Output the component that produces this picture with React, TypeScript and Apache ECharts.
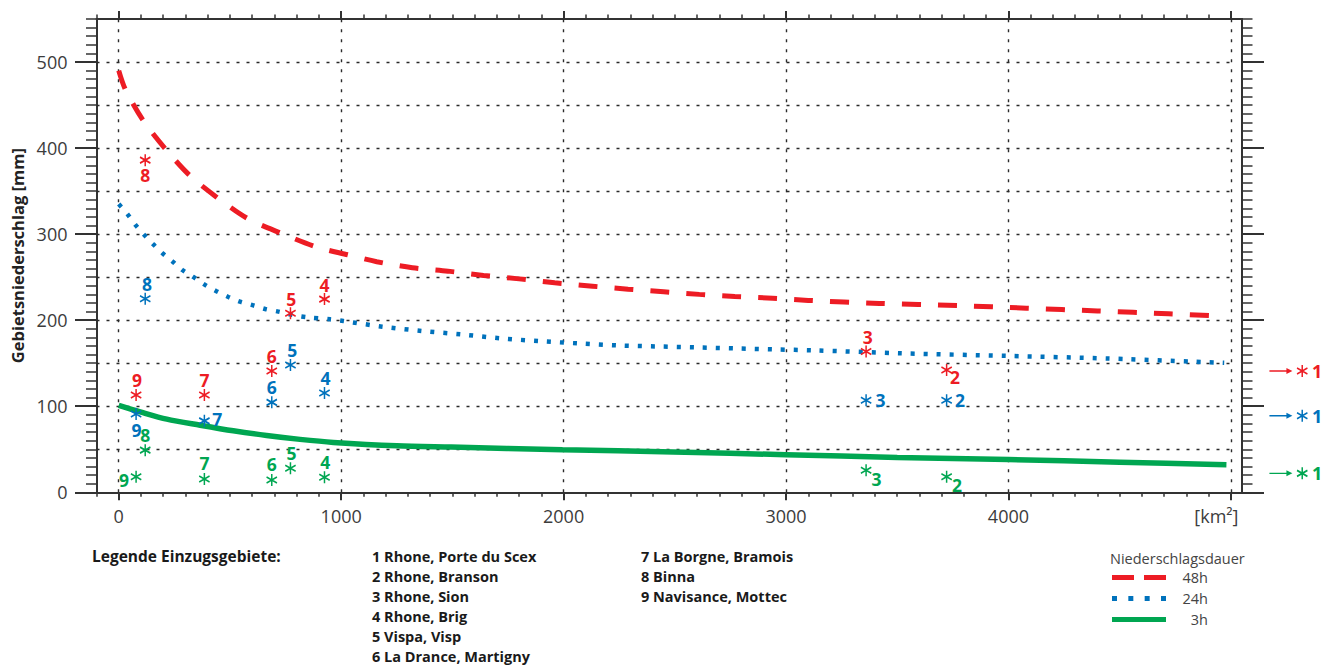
import React, { useEffect, useRef } from "react";
import * as echarts from "echarts";

// ---------- axis ranges & ticks ----------
const X_MIN = -100;
const X_MAX = 5050;
const Y_MIN = 0;
const Y_MAX = 550;
const xMajorTicks = [0, 1000, 2000, 3000, 4000, 5000];
const xLabelValues = [0, 1000, 2000, 3000, 4000, 5000];
const xMinorTicks = Array.from({ length: 52 }, (_, i) => -100 + i * 100);
const yMajorTicks = [0, 100, 200, 300, 400, 500];
const yLabelValues = [0, 100, 200, 300, 400, 500];
const yMinorTicks = Array.from({ length: 56 }, (_, i) => i * 10);
const gridXValues = [0, 1000, 2000, 3000, 4000, 5000];
const gridYValues = [50, 100, 150, 200, 250, 300, 350, 400, 450, 500];
const X_GRID_END = 5000;

// ---------- curves (area km², precipitation mm) ----------
const curve48h = [
  [0, 490], [30, 468], [110, 432], [210, 399], [320, 368], [440, 343], [580, 318],
  [730, 301], [890, 285], [1030, 276], [1160, 268], [1320, 261], [1480, 257],
  [1640, 252], [1800, 248], [1960, 243.5], [2130, 239.5], [2290, 236], [2450, 233],
  [2610, 230], [2770, 227.5], [2940, 225.5], [3100, 223], [3420, 219.5], [3770, 217],
  [4080, 214], [4400, 210.8], [4720, 207.5], [4930, 205],
];
const curve24h = [
  [0, 335], [40, 323], [76, 310.5], [115, 299], [156, 288], [198, 277.5], [243, 268],
  [288, 258], [333, 250.5], [388, 241], [437, 234], [493, 227], [545, 221.5],
  [601, 217.5], [658, 213], [718, 210], [782, 206], [845, 203.5], [950, 201],
  [1010, 199], [1185, 192.5], [1362, 187.5], [1538, 183.5], [1714, 179], [1890, 175.7],
  [2067, 173], [2244, 170.7], [2419, 169.5], [2599, 168.4], [2774, 167.2], [2951, 166],
  [3123, 165], [3524, 161.5], [3995, 158.5], [4445, 155.5], [4970, 150.5],
];
const curve3h = [
  [0, 101], [96, 93.5], [216, 85], [366, 78], [515, 71.5], [665, 66], [815, 61.5],
  [965, 58], [1250, 54], [1494, 52.5], [1995, 49.5], [2494, 46.8], [3000, 43.7],
  [3500, 40.5], [4000, 38], [4500, 35], [4980, 32],
];

// ---------- catchments ----------
const catchmentNames = [
  "Rhone, Porte du Scex", "Rhone, Branson", "Rhone, Sion", "Rhone, Brig", "Vispa, Visp",
  "La Drance, Martigny", "La Borgne, Bramois", "Binna", "Navisance, Mottec",
];
const catchmentIds = ["2", "3", "4", "5", "6", "7", "8", "9"];
const catchmentArea = [3722, 3360, 925, 772, 688, 385, 119, 78];
const peak48h = [142, 163.5, 224.5, 208, 141, 113, 386, 113];
const peak24h = [107, 107, 115.5, 148, 104.5, 83, 225, 91];
const peak3h = [18, 25.5, 17.4, 28, 14.3, 15.4, 49, 18];
// catchment 1 lies beyond the axis end (shown with an arrow)
const offAxisId = "1";
const offAxisArea = 5225;
const offAxisPeaks = [141, 89, 22]; // 48h, 24h, 3h

// ---------- label placement (style) ----------
const labelOffset48h = [[8.5, 6.7], [1.7, -14.5], [0, -14.5], [0.7, -14.5], [0, -14.5], [0, -15], [0, 15], [1, -15]];
const labelOffset24h = [[13.5, 0], [14.5, 0], [1, -14.5], [1.7, -15], [0, -15], [12.8, -2.3], [1.7, -15], [0.5, 16]];
const labelOffset3h = [[10.5, 7.7], [10.5, 8.3], [0.7, -15], [1, -15], [0, -15.7], [0, -15.7], [0, -15], [-12, 3.3]];

const RED = "#ed1c24";
const BLUE = "#0072bc";
const GREEN = "#00a651";
const DURATION_COLORS = [RED, BLUE, GREEN];
const FONT = '"Open Sans", "Noto Sans", sans-serif';
const AXIS_COLOR = "#333333";
const ASTERISK = "path://M0,-6L0,6M-5.2,-3L5.2,3M-5.2,3L5.2,-3";
const ARROW = "path://M0,2.3L17,2.3L17,0L23,3L17,6L17,3.7L0,3.7Z";

function scatterSeries(name: string, color: string, values: number[], offsets: number[][]) {
  return {
    type: "scatter",
    name,
    z: 5,
    clip: false,
    silent: true,
    symbol: ASTERISK,
    symbolSize: [10.4, 12],
    itemStyle: { color, borderColor: color, borderWidth: 1.6, opacity: 1 },
    label: {
      show: true,
      position: "inside",
      formatter: (p: any) => p.name,
      color,
      fontSize: 17.5,
      fontWeight: "bold",
      fontFamily: FONT,
    },
    data: catchmentArea.map((a, i) => ({
      name: catchmentIds[i],
      value: [a, values[i]],
      label: { offset: offsets[i] },
    })),
  };
}

function axisBase(extra: any) {
  return {
    type: "value",
    axisLine: { show: false, onZero: false },
    axisLabel: { show: false },
    splitLine: { show: false },
    axisTick: { show: true },
    ...extra,
  };
}

export default function App() {
  const ref = useRef<HTMLDivElement>(null);

  useEffect(() => {
    if (!ref.current) return;
    const chart = echarts.init(ref.current, undefined, { renderer: "svg" });

    const xAxisCommon = { min: X_MIN, max: X_MAX };
    const yAxisCommon = { min: Y_MIN, max: Y_MAX };
    const majorLine = { show: true, onZero: false, lineStyle: { color: AXIS_COLOR, width: 2 } };

    const legendLines: any[] = [];
    legendLines.push({
      type: "text",
      x: 92,
      y: 556,
      style: { text: "Legende Einzugsgebiete:", font: `bold 15.5px ${FONT}`, fill: "#1a1a1a", verticalAlign: "middle" },
    });
    catchmentNames.forEach((n, i) => {
      const col = i < 6 ? 0 : 1;
      const row = i < 6 ? i : i - 6;
      legendLines.push({
        type: "text",
        x: col === 0 ? 372 : 641,
        y: 556 + row * 20,
        style: { text: `${i + 1} ${n}`, font: `bold 14.5px ${FONT}`, fill: "#1a1a1a", verticalAlign: "middle" },
      });
    });
    legendLines.push({
      type: "text",
      x: 1110,
      y: 558,
      style: { text: "Niederschlagsdauer", font: `14.5px ${FONT}`, fill: "#444444", verticalAlign: "middle" },
    });

    const option: any = {
      animation: false,
      backgroundColor: "#ffffff",
      grid: { left: 96.5, right: 92, top: 19, bottom: 172.7, containLabel: false },
      xAxis: [
        axisBase({
          ...xAxisCommon,
          position: "bottom",
          axisLine: majorLine,
          axisTick: { show: true, inside: false, length: 8, customValues: xMajorTicks, lineStyle: { color: AXIS_COLOR, width: 2 } },
          axisLabel: {
            show: true,
            customValues: xLabelValues,
            margin: 15,
            fontSize: 18,
            color: "#3c3c3c",
            fontFamily: FONT,
            formatter: (v: number) => (v === 5000 ? "{u|[km²]}" : String(v)),
            rich: { u: { fontSize: 18, color: "#3c3c3c", fontFamily: FONT, padding: [0, 29, 0, 0] } },
          },
        }),
        axisBase({
          ...xAxisCommon,
          position: "bottom",
          axisTick: { show: true, inside: false, length: 4.5, customValues: xMinorTicks, lineStyle: { color: AXIS_COLOR, width: 1.5 } },
        }),
        axisBase({
          ...xAxisCommon,
          position: "top",
          axisLine: majorLine,
          axisTick: { show: true, inside: false, length: 8, customValues: xMajorTicks, lineStyle: { color: AXIS_COLOR, width: 2 } },
        }),
        axisBase({
          ...xAxisCommon,
          position: "top",
          axisTick: { show: true, inside: false, length: 4.5, customValues: xMinorTicks, lineStyle: { color: AXIS_COLOR, width: 1.5 } },
        }),
      ],
      yAxis: [
        axisBase({
          ...yAxisCommon,
          position: "left",
          axisLine: majorLine,
          axisTick: { show: true, inside: false, length: 21.5, customValues: yMajorTicks, lineStyle: { color: AXIS_COLOR, width: 2 } },
          axisLabel: { show: true, customValues: yLabelValues, margin: 29, fontSize: 18, color: "#3c3c3c", fontFamily: FONT },
          name: "Gebietsniederschlag [mm]",
          nameLocation: "middle",
          nameGap: 70,
          nameTextStyle: { fontWeight: "bold", fontSize: 16.5, color: "#222222", fontFamily: FONT },
        }),
        axisBase({
          ...yAxisCommon,
          position: "left",
          axisTick: { show: true, inside: false, length: 10.5, customValues: yMinorTicks, lineStyle: { color: AXIS_COLOR, width: 1.5 } },
        }),
        axisBase({
          ...yAxisCommon,
          position: "right",
          axisLine: majorLine,
          axisTick: { show: true, inside: false, length: 22, customValues: yMajorTicks, lineStyle: { color: AXIS_COLOR, width: 2 } },
        }),
        axisBase({
          ...yAxisCommon,
          position: "right",
          axisTick: { show: true, inside: false, length: 10.5, customValues: yMinorTicks, lineStyle: { color: AXIS_COLOR, width: 1.5 } },
        }),
      ],
      legend: {
        data: [
          { name: "48h", icon: "path://M0,0h22v5h-22z M32,0h22v5h-22z" },
          { name: "24h", icon: "path://M0,0h5v5h-5z M16.33,0h5v5h-5z M32.67,0h5v5h-5z M49,0h5v5h-5z" },
          { name: "3h", icon: "path://M0,0h54v5h-54z" },
        ],
        orient: "vertical",
        left: 1112,
        top: 570,
        itemWidth: 54,
        itemHeight: 5,
        itemGap: 6,
        padding: 0,
        selectedMode: false,
        itemStyle: { borderWidth: 0 },
        formatter: (n: string) => `{a|${n}}`,
        textStyle: {
          rich: { a: { width: 37, align: "right", fontSize: 14.5, lineHeight: 14, color: "#444444", fontFamily: FONT } },
        },
      },
      graphic: legendLines,
      series: [
        {
          type: "line",
          name: "grid",
          data: [],
          silent: true,
          z: 1,
          markLine: {
            silent: true,
            z: 1,
            symbol: ["none", "none"],
            label: { show: false },
            emphasis: { disabled: true },
            lineStyle: { color: "#2a2a2a", width: 1.4, type: [3, 7] },
            data: [
              ...gridYValues.map((y) => [{ coord: [X_MIN, y] }, { coord: [X_GRID_END, y] }]),
              ...gridXValues.map((x) => [{ coord: [x, Y_MIN] }, { coord: [x, Y_MAX] }]),
            ],
          },
        },
        {
          type: "line",
          name: "48h",
          data: curve48h,
          smooth: 0.3,
          symbol: "none",
          silent: true,
          z: 3,
          color: RED,
          lineStyle: { color: RED, width: 5, type: [19, 17], cap: "butt" },
        },
        {
          type: "line",
          name: "24h",
          data: curve24h,
          smooth: 0.3,
          symbol: "none",
          silent: true,
          z: 3,
          color: BLUE,
          lineStyle: { color: BLUE, width: 4.5, type: [4, 9], cap: "butt" },
        },
        {
          type: "line",
          name: "3h",
          data: curve3h,
          smooth: 0.3,
          symbol: "none",
          silent: true,
          z: 3,
          color: GREEN,
          lineStyle: { color: GREEN, width: 5.5 },
        },
        scatterSeries("p48h", RED, peak48h, labelOffset48h),
        scatterSeries("p24h", BLUE, peak24h, labelOffset24h),
        scatterSeries("p3h", GREEN, peak3h, labelOffset3h),
        {
          type: "scatter",
          name: "offArrow",
          clip: false,
          silent: true,
          z: 5,
          symbol: ARROW,
          symbolSize: [23, 6],
          itemStyle: { opacity: 1 },
          data: offAxisPeaks.map((v, i) => ({ value: [offAxisArea, v], itemStyle: { color: DURATION_COLORS[i], opacity: 1 } })),
        },
        {
          type: "scatter",
          name: "offStar",
          clip: false,
          silent: true,
          z: 5,
          symbol: ASTERISK,
          symbolSize: [10.4, 12],
          symbolOffset: [21.3, 0],
          itemStyle: { opacity: 1 },
          label: { show: true, position: "inside", offset: [14.8, 0], formatter: () => offAxisId, fontSize: 18, fontWeight: "bold", fontFamily: FONT },
          data: offAxisPeaks.map((v, i) => ({
            value: [offAxisArea, v],
            itemStyle: { color: DURATION_COLORS[i], borderColor: DURATION_COLORS[i], borderWidth: 1.6, opacity: 1 },
            label: { color: DURATION_COLORS[i] },
          })),
        },
      ],
    };

    chart.setOption(option);
    return () => chart.dispose();
  }, []);

  return <div ref={ref} style={{ position: "absolute", left: 0, top: 0, width: 1334, height: 665 }} />;
}
